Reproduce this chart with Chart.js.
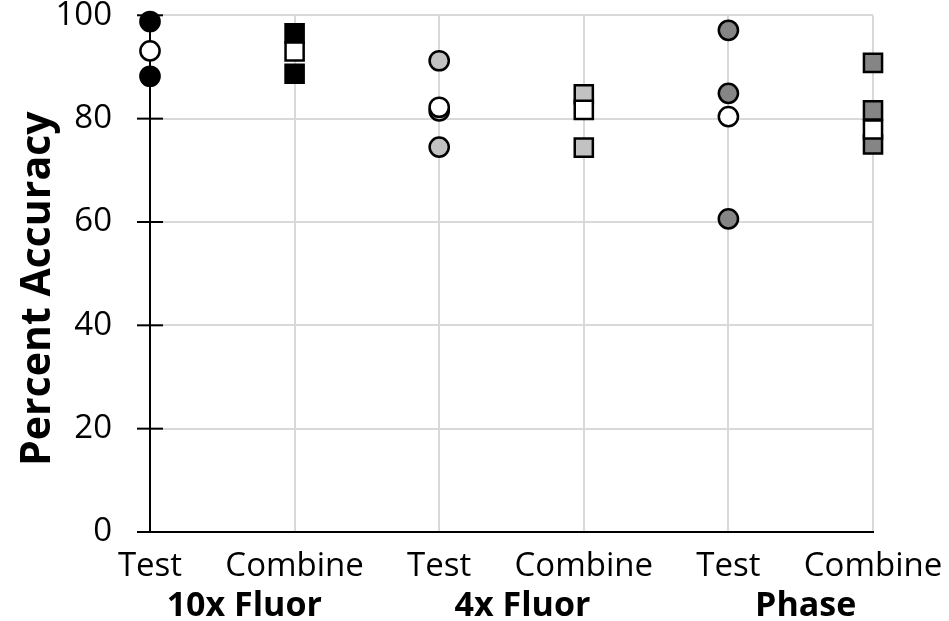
<!DOCTYPE html>
<html>
<head>
<meta charset="utf-8">
<script src="https://cdn.jsdelivr.net/npm/chart.js@4.4.1/dist/chart.umd.min.js"></script>
<style>
    html, body { margin: 0; padding: 0; background: #fff; }
    #wrap { width: 949px; height: 621px; }
</style>
</head>
<body>
<div id="wrap"><canvas id="accChart"></canvas></div>
<script>
// categories along x, grouped in pairs
const categories = ['Test', 'Combine', 'Test', 'Combine', 'Test', 'Combine'];
const groups = ['10x Fluor', '4x Fluor', 'Phase'];
const yTicks = [0, 20, 40, 60, 80, 100];
const yTitle = 'Percent Accuracy';

// individual runs
const fluor10xTest = [98.8, 88.2];
const fluor10xCombine = [96.5, 88.7];
const fluor4xTest = [91.2, 81.5, 74.5];
const fluor4xCombine = [84.7, 74.4];
const phaseTest = [97.1, 84.9, 60.6];
const phaseCombine = [90.8, 81.6, 75.0];

// white markers (means), one per group
const testMeans = [93.1, 82.2, 80.4];
const combineMeans = [93.0, 81.7, 77.9];

const FONT = "'Open Sans', sans-serif";
// group names sit a little right of the pair's middle
const groupShift = [22, 11, 5];

function pts(xIndex, values) {
    return values.map(v => ({ x: xIndex, y: v }));
}

function runSet(xIndex, values, color, shape) {
    return {
        data: pts(xIndex, values),
        pointStyle: shape,
        pointRadius: shape === 'rect' ? 12.8 : 9.6,
        pointBackgroundColor: color,
        pointBorderColor: '#000',
        pointBorderWidth: 2.5,
        showLine: false,
        clip: false,
        order: 1
    };
}

function meanSet(offset, values, shape) {
    return {
        data: values.map((v, i) => ({ x: i * 2 + offset, y: v })),
        pointStyle: shape,
        pointRadius: shape === 'rect' ? 12.8 : 9.6,
        pointBackgroundColor: '#fff',
        pointBorderColor: '#000',
        pointBorderWidth: 2.5,
        showLine: false,
        clip: false,
        order: 0
    };
}

// crossing tick marks on the y axis, the y title and the group names
const extras = {
    id: 'extras',
    beforeDatasetsDraw(chart) {
        const ctx = chart.ctx;
        const y = chart.scales.y;
        const left = chart.chartArea.left;
        ctx.save();
        ctx.strokeStyle = '#000';
        ctx.lineWidth = 2;
        yTicks.forEach(t => {
            const py = y.getPixelForValue(t);
            ctx.beginPath();
            ctx.moveTo(left - 13, py);
            ctx.lineTo(left + 13, py);
            ctx.stroke();
        });
        ctx.restore();
    },
    afterDraw(chart) {
        const ctx = chart.ctx;
        const x = chart.scales.x;
        const area = chart.chartArea;
        ctx.save();
        ctx.fillStyle = '#000';
        ctx.font = "bold 34px " + FONT;
        ctx.textAlign = 'center';
        ctx.textBaseline = 'alphabetic';
        groups.forEach((g, i) => {
            const px = x.getPixelForValue(i * 2 + 0.5) + groupShift[i];
            ctx.fillText(g, px, 616);
        });

        // y title, a bit below the middle of the plot like the original
        ctx.translate(50, (area.top + area.bottom) / 2 + 15);
        ctx.rotate(-Math.PI / 2);
        ctx.font = "bold 41px " + FONT;
        ctx.fillText(yTitle, 0, 0);
        ctx.restore();
    }
};

const ctx = document.getElementById('accChart').getContext('2d');

new Chart(ctx, {
    type: 'scatter',
    data: {
        datasets: [
            meanSet(0, testMeans, 'circle'),
            meanSet(1, combineMeans, 'rect'),
            runSet(0, fluor10xTest, '#000', 'circle'),
            runSet(1, fluor10xCombine, '#000', 'rect'),
            runSet(2, fluor4xTest, '#c2c2c2', 'circle'),
            runSet(3, fluor4xCombine, '#c2c2c2', 'rect'),
            runSet(4, phaseTest, '#858585', 'circle'),
            runSet(5, phaseCombine, '#858585', 'rect')
        ]
    },
    options: {
        responsive: true,
        maintainAspectRatio: false,
        animation: false,
        layout: {
            padding: { top: 14, right: 76, left: 0, bottom: 0 }
        },
        plugins: {
            legend: { display: false },
            tooltip: { enabled: false }
        },
        scales: {
            x: {
                type: 'linear',
                min: 0,
                max: 5,
                afterBuildTicks: s => { s.ticks = categories.map((c, i) => ({ value: i })); },
                afterFit: s => {
                    s.height = 89;
                    s.paddingLeft = 0;
                    s.paddingRight = 0;
                },
                ticks: {
                    callback: v => categories[v],
                    color: '#000',
                    font: { family: FONT, size: 33 },
                    padding: 15,
                    maxRotation: 0,
                    autoSkip: false
                },
                grid: {
                    color: '#d9d9d9',
                    lineWidth: 2,
                    drawTicks: false
                },
                border: { color: '#000', width: 2 }
            },
            y: {
                min: 0,
                max: 100,
                afterBuildTicks: s => { s.ticks = yTicks.map(v => ({ value: v })); },
                afterFit: s => {
                    s.width = 150;
                    s.paddingTop = 0;
                    s.paddingBottom = 0;
                },
                ticks: {
                    color: '#000',
                    font: { family: FONT, size: 33 },
                    padding: 38
                },
                grid: {
                    color: '#d9d9d9',
                    lineWidth: 2,
                    drawTicks: false
                },
                border: { color: '#000', width: 2 }
            }
        }
    },
    plugins: [extras]
});
</script>
</body>
</html>
